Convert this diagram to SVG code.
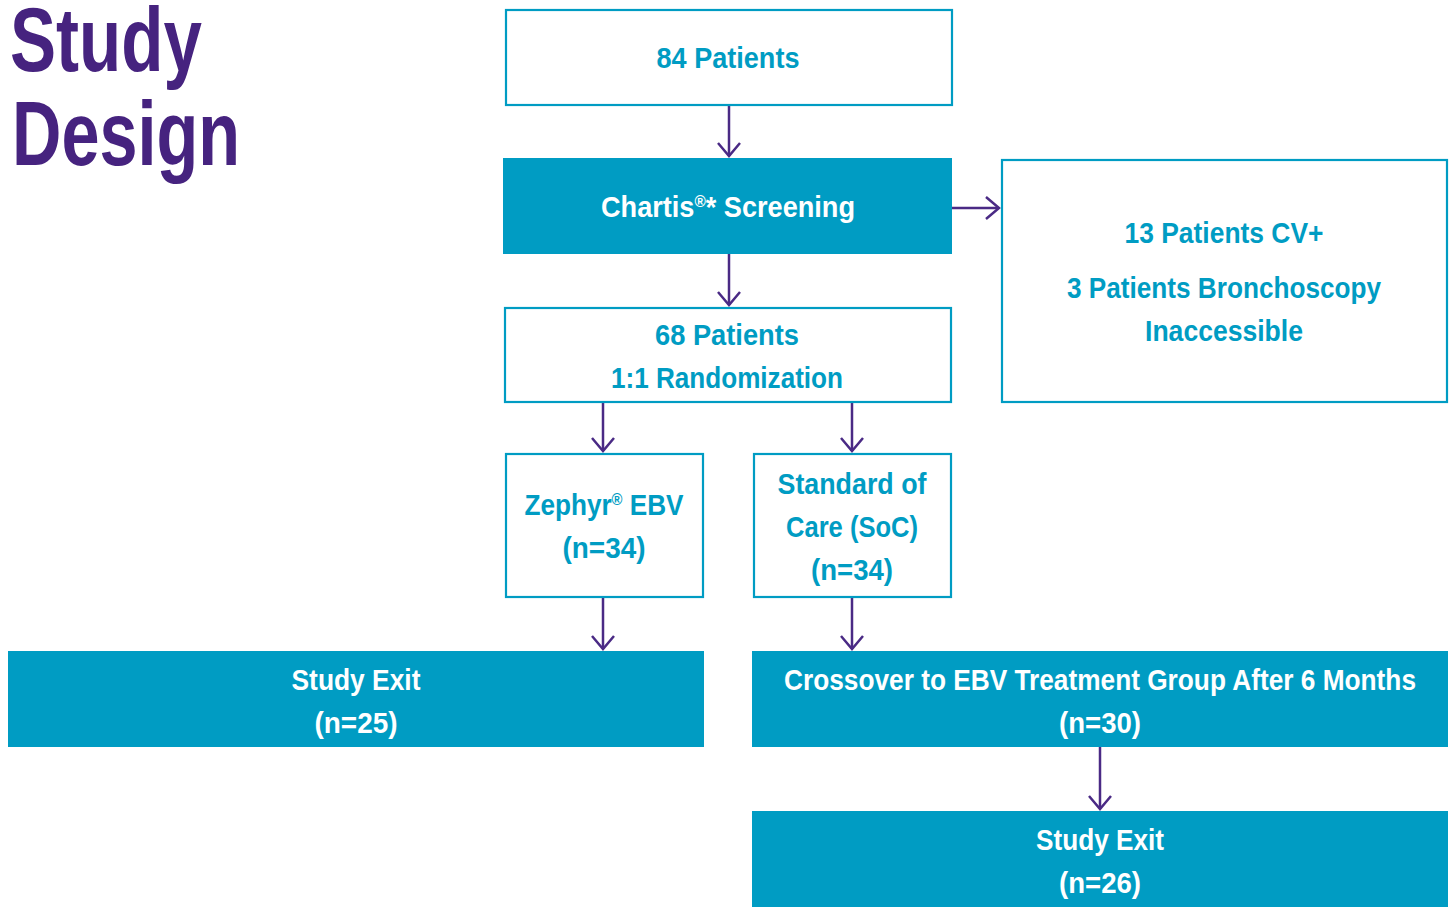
<svg xmlns="http://www.w3.org/2000/svg" width="1450" height="907" viewBox="0 0 1450 907">
<style>
.ob{fill:#fff;stroke:#009CC3;stroke-width:2.2}
.fb{fill:#009CC3}
.t{font-family:"Liberation Sans",Arial,sans-serif;font-weight:bold;font-size:30px;text-anchor:middle}
.tc{fill:#009CC3}
.tw{fill:#fff}
.sup{font-size:17px}
.ttl{font-family:"Liberation Sans",Arial,sans-serif;font-weight:bold;font-size:90px;fill:#46237F}
.c{stroke:#4A2A85;stroke-width:2.5;fill:none;marker-end:url(#ah)}
</style>
<defs>
<marker id="ah" markerUnits="userSpaceOnUse" viewBox="-16 -13 18 26" markerWidth="18" markerHeight="26" refX="0" refY="0" orient="auto">
<path d="M-13,-11 L0,0 L-13,11" fill="none" stroke="#4A2A85" stroke-width="2.5"/>
</marker>
</defs>
<g id="title">
<text class="ttl" x="10" y="71" textLength="192" lengthAdjust="spacingAndGlyphs">Study</text>
<text class="ttl" x="12" y="165" textLength="228" lengthAdjust="spacingAndGlyphs">Design</text>
</g>
<g id="connectors">
<line class="c" x1="729" y1="105" x2="729" y2="156"/>
<line class="c" x1="952" y1="208" x2="999" y2="208"/>
<line class="c" x1="729" y1="254" x2="729" y2="305"/>
<line class="c" x1="603" y1="403" x2="603" y2="451"/>
<line class="c" x1="852" y1="403" x2="852" y2="451"/>
<line class="c" x1="603" y1="597" x2="603" y2="649"/>
<line class="c" x1="852" y1="597" x2="852" y2="649"/>
<line class="c" x1="1100" y1="747" x2="1100" y2="809"/>
</g>
<g id="n84">
<rect class="ob" x="506" y="10" width="446" height="95"/>
<text class="t tc" x="728" y="68" textLength="143" lengthAdjust="spacingAndGlyphs">84 Patients</text>
</g>
<g id="chartis">
<rect class="fb" x="503" y="158" width="449" height="96"/>
<text class="t tw" x="728" y="217" textLength="254" lengthAdjust="spacingAndGlyphs">Chartis<tspan class="sup" dy="-10">®</tspan><tspan dy="10">* Screening</tspan></text>
</g>
<g id="excluded">
<rect class="ob" x="1002" y="160" width="445" height="242"/>
<text class="t tc" x="1224" y="243" textLength="199" lengthAdjust="spacingAndGlyphs">13 Patients CV+</text>
<text class="t tc" x="1224" y="298" textLength="314" lengthAdjust="spacingAndGlyphs">3 Patients Bronchoscopy</text>
<text class="t tc" x="1224" y="341" textLength="158" lengthAdjust="spacingAndGlyphs">Inaccessible</text>
</g>
<g id="n68">
<rect class="ob" x="505" y="308" width="446" height="94"/>
<text class="t tc" x="727" y="345" textLength="144" lengthAdjust="spacingAndGlyphs">68 Patients</text>
<text class="t tc" x="727" y="388" textLength="232" lengthAdjust="spacingAndGlyphs">1:1 Randomization</text>
</g>
<g id="zephyr">
<rect class="ob" x="506" y="454" width="197" height="143"/>
<text class="t tc" x="604" y="515" textLength="159" lengthAdjust="spacingAndGlyphs">Zephyr<tspan class="sup" dy="-10">®</tspan><tspan dy="10"> EBV</tspan></text>
<text class="t tc" x="604" y="558" textLength="83" lengthAdjust="spacingAndGlyphs">(n=34)</text>
</g>
<g id="soc">
<rect class="ob" x="754" y="454" width="197" height="143"/>
<text class="t tc" x="852" y="494" textLength="149" lengthAdjust="spacingAndGlyphs">Standard of</text>
<text class="t tc" x="852" y="537" textLength="132" lengthAdjust="spacingAndGlyphs">Care (SoC)</text>
<text class="t tc" x="852" y="580" textLength="82" lengthAdjust="spacingAndGlyphs">(n=34)</text>
</g>
<g id="exit25">
<rect class="fb" x="8" y="651" width="696" height="96"/>
<text class="t tw" x="356" y="690" textLength="129" lengthAdjust="spacingAndGlyphs">Study Exit</text>
<text class="t tw" x="356" y="733" textLength="83" lengthAdjust="spacingAndGlyphs">(n=25)</text>
</g>
<g id="crossover">
<rect class="fb" x="752" y="651" width="696" height="96"/>
<text class="t tw" x="1100" y="690" textLength="632" lengthAdjust="spacingAndGlyphs">Crossover to EBV Treatment Group After 6 Months</text>
<text class="t tw" x="1100" y="733" textLength="82" lengthAdjust="spacingAndGlyphs">(n=30)</text>
</g>
<g id="exit26">
<rect class="fb" x="752" y="811" width="696" height="96"/>
<text class="t tw" x="1100" y="850" textLength="128" lengthAdjust="spacingAndGlyphs">Study Exit</text>
<text class="t tw" x="1100" y="893" textLength="82" lengthAdjust="spacingAndGlyphs">(n=26)</text>
</g>
</svg>
